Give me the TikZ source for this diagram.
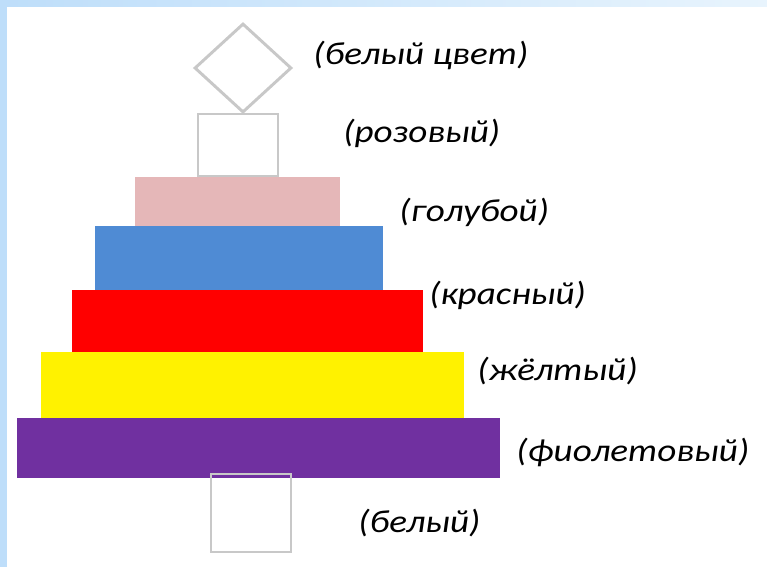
\documentclass[tikz,border=0pt]{standalone}
\usepackage{fontspec}
\setmainfont{Carlito}
\newfontfamily\lblfont{Carlito}[FakeStretch=1.16]
\usetikzlibrary{shapes.geometric}
\definecolor{framebl}{RGB}{190,222,250}
\definecolor{framelt}{RGB}{232,244,253}
\definecolor{pinkbar}{RGB}{229,183,184}
\definecolor{bluebar}{RGB}{79,139,212}
\definecolor{purplebar}{RGB}{112,48,160}
\definecolor{outl}{RGB}{200,200,200}

\begin{document}
\begin{tikzpicture}[x=0.75pt,y=-0.75pt,
  sz/.style 2 args={minimum width=#1*0.75pt,minimum height=#2*0.75pt},
  bar/.style={rectangle,inner sep=0pt,outer sep=0pt},
  box/.style={rectangle,draw=outl,line width=2.2pt,inner sep=0pt},
  lbl/.style={anchor=west,inner sep=0pt,font=\lblfont\fontsize{24}{28}\selectfont\itshape}]
\useasboundingbox (0,0) rectangle (767,567);
\fill[white] (0,0) rectangle (767,567);
% frame
\shade[left color=framebl,right color=framelt] (0,0) rectangle (767,7);
\fill[framebl] (0,0) rectangle (7,567);
% pyramid
\node[diamond,draw=outl,line width=2.2pt,inner sep=0pt,sz={97}{89}] (top) at (243,68) {};
\node[box,sz={80}{62}] (rose) at (238,145) {};
\node[bar,fill=pinkbar,sz={205}{49}] (pink) at (237.5,201.5) {};
\node[bar,fill=bluebar,sz={288}{64}] (blue) at (239,258) {};
\node[bar,fill=red,sz={351}{62}] (red) at (247.5,321) {};
\node[bar,fill=yellow,sz={423}{66}] (yellow) at (252.5,385) {};
\node[bar,fill=purplebar,sz={483}{60}] (violet) at (258.5,448) {};
\node[box,sz={80}{78}] (foot) at (251,513) {};
% labels
\node[lbl] (ltop) at (313,55) {(белый цвет)};
\node[lbl] (lrose) at (343,133) {(розовый)};
\node[lbl] (lpink) at (399,212) {(голубой)};
\node[lbl] (lblue) at (429,295) {(красный)};
\node[lbl] (lyellow) at (477,371) {(жёлтый)};
\node[lbl] (lviolet) at (516,452) {(фиолетовый)};
\node[lbl] (lfoot) at (358,523) {(белый)};
\end{tikzpicture}
\end{document}
